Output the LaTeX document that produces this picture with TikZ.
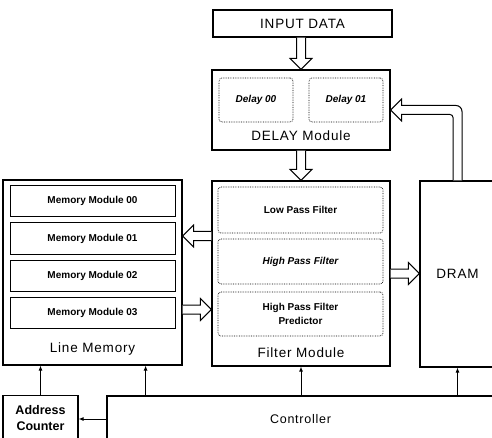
\documentclass[tikz,border=0pt]{standalone}
\usepackage{fontspec}
\setmainfont{Liberation Sans}
\newfontfamily\spacedfont[LetterSpace=6]{Liberation Sans}
\usetikzlibrary{calc,arrows.meta}

% Hollow block arrows between boxes: #1 = tail point, #2 = tip point
\newcommand\arrowright[2]{%
  \draw[hollow] let \p1=(#1), \p2=(#2) in
    (\x1,\y1+4.5pt) -- (\x2-11pt,\y1+4.5pt) -- (\x2-11pt,\y1+11pt) -- (\x2,\y1)
    -- (\x2-11pt,\y1-11pt) -- (\x2-11pt,\y1-4.5pt) -- (\x1,\y1-4.5pt);}
\newcommand\arrowleft[2]{%
  \draw[hollow] let \p1=(#1), \p2=(#2) in
    (\x1,\y1+4.5pt) -- (\x2+11pt,\y1+4.5pt) -- (\x2+11pt,\y1+11pt) -- (\x2,\y1)
    -- (\x2+11pt,\y1-11pt) -- (\x2+11pt,\y1-4.5pt) -- (\x1,\y1-4.5pt);}
\newcommand\arrowdown[2]{%
  \draw[hollow] let \p1=(#1), \p2=(#2) in
    (\x1-4.5pt,\y1) -- (\x1-4.5pt,\y2+11pt) -- (\x1-11pt,\y2+11pt) -- (\x1,\y2)
    -- (\x1+11pt,\y2+11pt) -- (\x1+4.5pt,\y2+11pt) -- (\x1+4.5pt,\y1);}

\tikzset{
  box/.style={draw, line width=1.2pt, inner sep=0pt},
  subbox/.style={draw, line width=0.7pt, densely dotted, rounded corners=3pt, inner sep=0pt,
    minimum width=165pt, font=\bfseries\fontsize{10}{14}\selectfont, align=center},
  delaybox/.style={subbox, minimum width=74pt, minimum height=44pt,
    font=\bfseries\itshape\fontsize{10}{12}\selectfont},
  membox/.style={draw, line width=1pt, minimum width=165pt, minimum height=31pt, inner sep=0pt,
    font=\bfseries\fontsize{10}{12}\selectfont},
  title/.style={font=\spacedfont\fontsize{13.5}{16}\selectfont},
  hollow/.style={draw, line width=1pt, line join=miter, fill=white},
  ctl/.style={line width=0.9pt, -{Latex[length=5pt,width=4pt]}},
}

\begin{document}
\begin{tikzpicture}[x=1pt,y=-1pt]
\fill[white] (0,0) rectangle (492,438);
\clip (0,0) rectangle (492,438);

% input and delay stage
\node[box, minimum width=179pt, minimum height=27pt, title] (inp) at (302.5,23.5) {INPUT DATA};
\node[box, minimum width=178pt, minimum height=80pt] (delay) at (301,110) {};
\node[delaybox] (d0) at (256,100) {Delay 00};
\node[delaybox] (d1) at (346,100) {Delay 01};
\node[title] (delaylbl) at ($(delay.south)+(0,-15)$) {DELAY Module};

% filter module
\node[box, minimum width=178pt, minimum height=185pt] (filt) at (301,273.5) {};
\node[subbox, minimum height=46pt] (lp) at (300.5,210) {Low Pass Filter};
\node[subbox, minimum height=45pt, font=\bfseries\itshape\fontsize{10}{12}\selectfont] (hp) at (300.5,261.5) {High Pass Filter};
\node[subbox, minimum height=44pt] (hpp) at (300.5,314) {High Pass Filter\\Predictor};
\node[title] (filtlbl) at ($(filt.south)+(0,-14)$) {Filter Module};

% line memory
\node[box, minimum width=179pt, minimum height=185pt] (lm) at (92.5,272.5) {};
\node[membox] (m0) at (92.5,201) {Memory Module 00};
\node[membox] (m1) at (92.5,238.5) {Memory Module 01};
\node[membox] (m2) at (92.5,275.5) {Memory Module 02};
\node[membox] (m3) at (92.5,312.5) {Memory Module 03};
\node[title] (lmlbl) at ($(lm.south)+(0,-17)$) {Line Memory};

% DRAM, controller and address counter
\node[box, minimum width=75pt, minimum height=186pt, title] (dram) at (457.5,274) {DRAM};
\node[box, minimum width=387pt, minimum height=46pt, font=\spacedfont\fontsize{12.5}{15}\selectfont] (ctrl) at (300.5,419) {Controller};
\node[box, minimum width=75pt, minimum height=46pt, align=center,
      font=\bfseries\fontsize{12.5}{16}\selectfont] (addr) at (40.5,418.5) {Address\\Counter};

% control lines
\coordinate (tapLM) at ($(lm.south east)+(-37,0)$);
\draw[ctl] (addr.north) -- (lm.south -| addr.north);
\draw[ctl] (ctrl.north -| tapLM) -- (tapLM);
\draw[ctl] (ctrl.north -| filt.south) -- (filt.south);
\draw[ctl] (ctrl.north -| dram.south) -- (dram.south);
\draw[ctl] (ctrl.west) -- (ctrl.west -| addr.east);

% data paths
\arrowdown{inp.south -| delay.north}{delay.north}
\arrowdown{delay.south}{filt.north}
\coordinate (toLM) at ($(filt.west)+(0,-37.5)$);
\arrowleft{toLM}{toLM -| lm.east}
\coordinate (fromLM) at ($(lm.east)+(0,37)$);
\arrowright{fromLM}{fromLM -| filt.west}
\arrowright{filt.east}{filt.east -| dram.west}

% feedback from DRAM to the delay stage
\draw[hollow] let \p1=(dram.north), \p2=(delay.east) in
  (\x1+4.5pt,\y1) -- (\x1+4.5pt,\y2-1.5pt) arc[start angle=0, end angle=90, radius=6pt]
  -- (\x2+11pt,\y2+4.5pt) -- (\x2+11pt,\y2+11pt) -- (\x2,\y2) -- (\x2+11pt,\y2-11pt)
  -- (\x2+11pt,\y2-4.5pt) -- (\x1-7.5pt,\y2-4.5pt) arc[start angle=90, end angle=0, radius=3pt]
  -- (\x1-4.5pt,\y1);
\end{tikzpicture}
\end{document}
